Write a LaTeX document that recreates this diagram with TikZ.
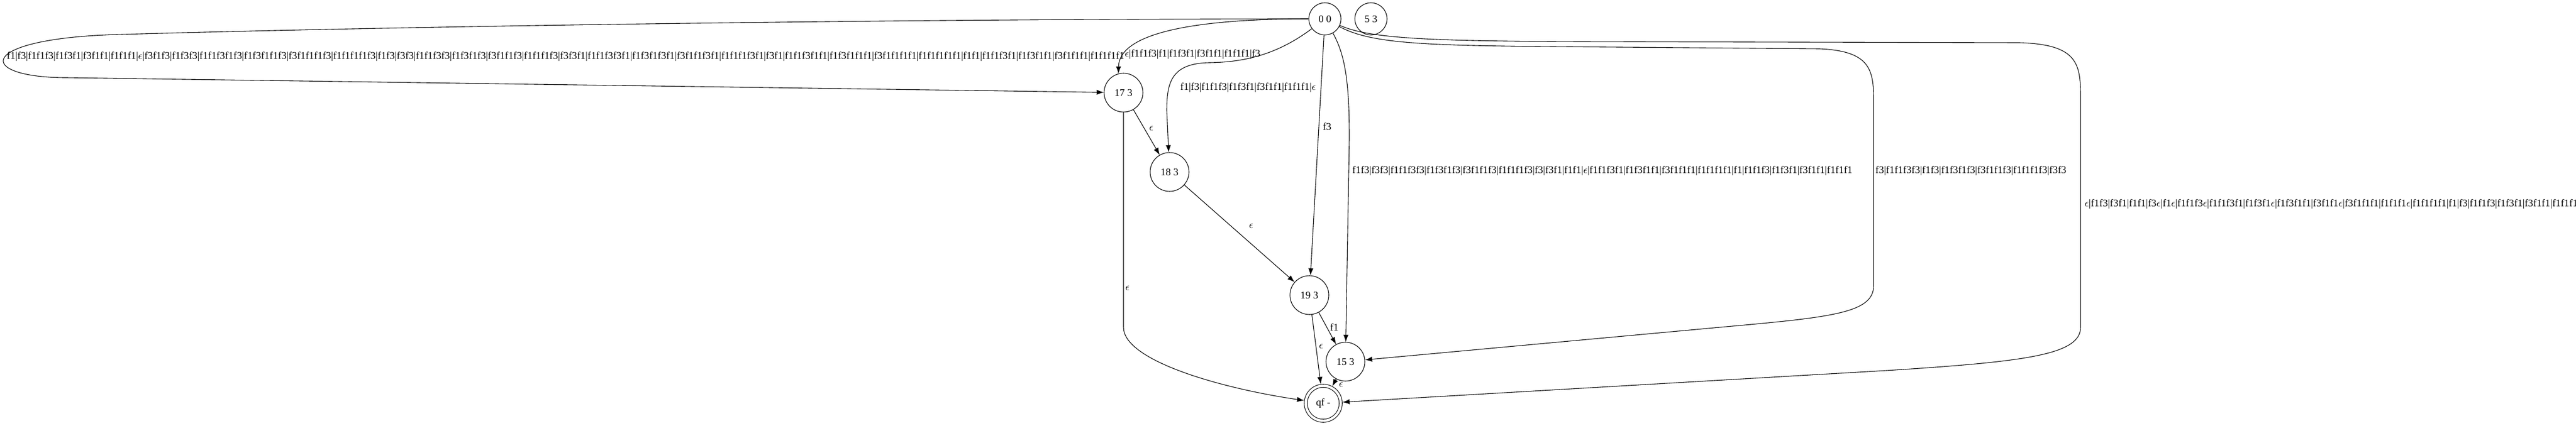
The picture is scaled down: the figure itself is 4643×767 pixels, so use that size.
\documentclass[tikz,border=0pt]{standalone}
\usepackage{fontspec}
\setmainfont{Liberation Serif}
\usetikzlibrary{arrows.meta}
\tikzset{
  >={Latex[length=6.4pt,width=4.6pt]},
}
\tikzstyle{state}=[circle,draw,line width=.55pt,minimum size=29pt,inner sep=0pt]
\tikzstyle{big}=[minimum size=35pt]
\tikzstyle{final}=[state,double,double distance=2.2pt,minimum size=31.5pt,outer sep=1.65pt]
\tikzstyle{edge}=[line width=.55pt,->]
\tikzstyle{lbl}=[inner sep=0pt]
\tikzstyle{every node}=[font=\fontsize{9.2}{11}\selectfont]
\newcommand{\epsl}{$\epsilon$}

\begin{document}
\begin{tikzpicture}[x=.5pt,y=-.5pt]
        \useasboundingbox (0,0) rectangle (4643,767);
        \node[state] (n00) at (2388,34) {0 0};
        \node[state] (n53) at (2471,34) {5 3};
        \node[state,big] (n173) at (2025,167) {17 3};
        \node[state,big] (n183) at (2108,310) {18 3};
        \node[state,big] (n193) at (2360,532) {19 3};
        \node[state,big] (n153) at (2425,652) {15 3};
        \node[final] (qf) at (2385,727) {qf -};
        \draw[edge] (n00) .. controls (1600,34) and (700,48) .. (220,62)
          .. controls (-46,68) and (-46,140) .. (120,140) -- (n173);
        \draw[edge] (n00) .. controls (2150,34) and (2017,60) .. (n173.105);
        \draw[edge] (n00) .. controls (2300,100) and (2240,112) .. (2180,113)
          .. controls (2110,114) and (2103,150) .. (2103,200) -- (n183);
        \draw[edge] (n00) -- (n193);
        \draw[edge] (n00) .. controls (2425,100) and (2432,150) .. (2432,250) -- (n153);
        \draw[edge] (n00) .. controls (2470,78) and (2560,82) .. (2800,84) -- (3280,88)
          .. controls (3370,92) and (3377,125) .. (3377,180) -- (3377,515)
          .. controls (3377,565) and (3300,572) .. (3100,590) -- (n153);
        \draw[edge] (n00) .. controls (2470,70) and (2580,74) .. (2850,75) -- (3640,77)
          .. controls (3745,80) and (3750,115) .. (3750,175) -- (3750,590)
          .. controls (3750,640) and (3650,652) .. (3400,668) -- (qf);
        \draw[edge] (n173) -- (n183);
        \draw[edge] (n173) -- (2025,590) .. controls (2025,650) and (2200,700) .. (qf);
        \draw[edge] (n183) -- (n193);
        \draw[edge] (n193) -- (n153);
        \draw[edge] (n193) -- (qf);
        \draw[edge] (n153) -- (qf);
        % labels
        \node[lbl,anchor=west] (l1) at (12,102) {f1|f3|f1f1f3|f1f3f1|f3f1f1|f1f1f1|\epsl|f3f1f3|f1f3f3|f1f1f3f1f3|f1f3f1f1f3|f3f1f1f1f3|f1f1f1f1f3|f1f3|f3f3|f1f1f3f3|f1f3f1f3|f3f1f1f3|f1f1f1f3|f3f3f1|f1f1f3f3f1|f1f3f1f3f1|f3f1f1f3f1|f1f1f1f3f1|f3f1|f1f1f3f1f1|f1f3f1f1f1|f3f1f1f1f1|f1f1f1f1f1|f1f1|f1f1f3f1|f1f3f1f1|f3f1f1f1|f1f1f1f1};
        \node[lbl,anchor=west] (l2) at (2027,98) {\epsl|f1f1f3|f1|f1f3f1|f3f1f1|f1f1f1|f3};
        \node[lbl,anchor=west] (l3) at (2127,158) {f1|f3|f1f1f3|f1f3f1|f3f1f1|f1f1f1|\epsl};
        \node[lbl] (l4) at (2392,228) {f3};
        \node[lbl,anchor=west] (l5) at (2437,308) {f1f3|f3f3|f1f1f3f3|f1f3f1f3|f3f1f1f3|f1f1f1f3|f3|f3f1|f1f1|\epsl|f1f1f3f1|f1f3f1f1|f3f1f1f1|f1f1f1f1|f1|f1f1f3|f1f3f1|f3f1f1|f1f1f1};
        \node[lbl,anchor=west] (l6) at (3380,308) {f3|f1f1f3f3|f1f3|f1f3f1f3|f3f1f1f3|f1f1f1f3|f3f3};
        \node[lbl,anchor=west] (l7) at (3757,368) {\epsl|f1f3|f3f1|f1f1|f3\epsl|f1\epsl|f1f1f3\epsl|f1f1f3f1|f1f3f1\epsl|f1f3f1f1|f3f1f1\epsl|f3f1f1f1|f1f1f1\epsl|f1f1f1f1|f1|f3|f1f1f3|f1f3f1|f3f1f1|f1f1f1};
        \node[lbl] (l8) at (2075,232) {\epsl};
        \node[lbl] (l9) at (2032,520) {\epsl};
        \node[lbl] (l10) at (2255,408) {\epsl};
        \node[lbl] (l11) at (2405,590) {f1};
        \node[lbl] (l12) at (2381,625) {\epsl};
        \node[lbl] (l13) at (2417,694) {\epsl};
\end{tikzpicture}
\end{document}
